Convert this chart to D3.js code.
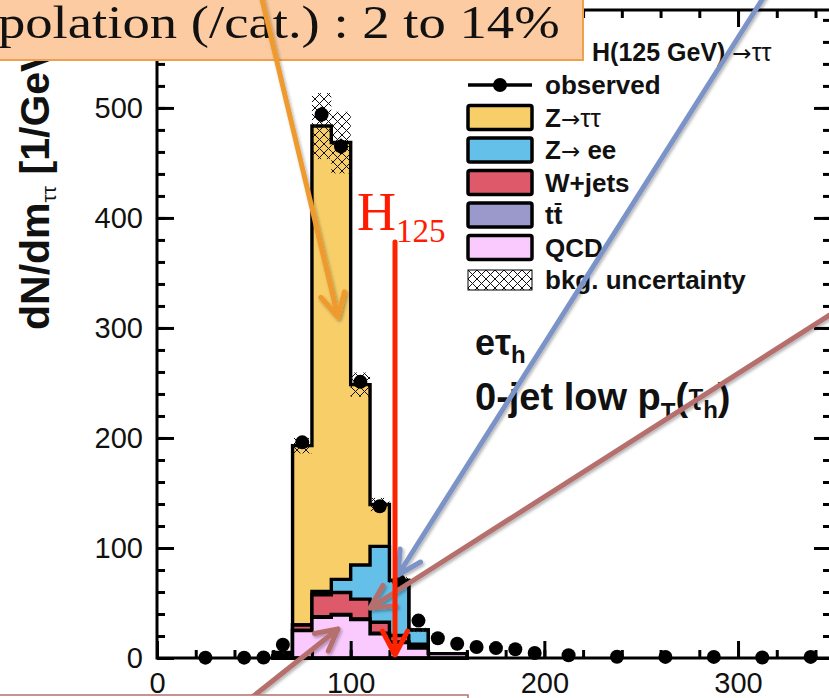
<!DOCTYPE html>
<html>
<head>
<meta charset="utf-8">
<script src="https://cdn.jsdelivr.net/npm/d3@7"></script>
<style>
  body { margin: 0; background: #fff; }
  svg { display: block; }
  .sans { font-family: "Liberation Sans", Arial, Helvetica, sans-serif; }
  .serif { font-family: "Liberation Serif", "DejaVu Serif", serif; }
  .sym { font-family: "DejaVu Sans", sans-serif; }
</style>
</head>
<body>
<svg id="chart" width="829" height="698"></svg>
<script>
// ---- histogram contents (events / GeV), 10 GeV bins ----
const binEdges = [60, 70, 80, 90, 100, 110, 120, 130, 140, 150, 160];
const qcd      = [2, 25, 37, 39, 35, 22, 14, 9, 4, 4];
const ttbar    = [0, 0, 0.5, 0.5, 0.5, 0.5, 0.5, 0.5, 0, 0];
const wjets    = [0, 5, 20, 20, 18, 10, 6, 3, 0, 0];
const zee      = [0, 0, 3, 12, 31, 69, 50, 13, 0, 0];
const ztt      = [3, 163, 423, 397, 164, 38, 0, 0, 0, 0];
const bkgUnc   = [1, 7, 30, 28, 11, 6, 3, 2, 0, 0];

// observed data points (bin centre, value, error)
const obsMass = [25, 45, 55, 65, 75, 85, 95, 105, 115, 125, 135, 145, 155, 165, 175, 185, 195, 212.5, 237.5, 262.5, 287.5, 312.5, 337.5];
const obsVal  = [0.3, 0.3, 0.5, 12, 196, 494, 465, 251, 138, 70, 34, 18, 13, 10, 9, 8, 4.5, 2.5, 1.2, 1, 1, 0.4, 1];
const obsErr  = [0.5, 0.5, 0.7, 3, 4.5, 7, 7, 5, 4, 2.6, 1.8, 1.3, 1.1, 1, 1, 0.9, 0.7, 0.3, 0.2, 0.2, 0.2, 0.1, 0.2];

const xTicks = [0, 100, 200, 300];
const yTicks = [0, 100, 200, 300, 400, 500];
const xMinorTicks = [0, 20, 40, 60, 80, 100, 120, 140, 160, 180, 200, 220, 240, 260, 280, 300, 320, 340];
const yMinorTicks = [0, 20, 40, 60, 80, 100, 120, 140, 160, 180, 200, 220, 240, 260, 280, 300, 320, 340, 360, 380, 400, 420, 440, 460, 480, 500, 520, 540, 560, 580];

const keys   = ["qcd", "ttbar", "wjets", "zee", "ztt"];
const colors = { qcd: "#FACAFF", ttbar: "#9B98CC", wjets: "#DE5A6A", zee: "#64C0E8", ztt: "#F8CE68" };
const legendLabels = ["observed", "Z→ττ", "Z→ ee", "W+jets", "tt", "QCD", "bkg. uncertainty"];

const svg = d3.select("#chart");
const defs = svg.append("defs");

// cross-hatch used for the background uncertainty band
const pat = defs.append("pattern").attr("id", "xhatch")
  .attr("patternUnits", "userSpaceOnUse").attr("width", 9).attr("height", 9);
pat.append("path").attr("d", "M0,0L9,9M9,0L0,9M-1,8L1,10M8,-1L10,1")
  .attr("stroke", "#111").attr("stroke-width", 1).attr("fill", "none");

const shadow = defs.append("filter").attr("id", "shadow")
  .attr("x", "-20%").attr("y", "-20%").attr("width", "140%").attr("height", "140%");
shadow.append("feDropShadow").attr("dx", 1.5).attr("dy", 2).attr("stdDeviation", 1.5)
  .attr("flood-color", "#000").attr("flood-opacity", 0.3);

const x = d3.scaleLinear().domain([0, 348]).range([157, 831]);
const y = d3.scaleLinear().domain([0, 589]).range([658, 10]);

// ---- stacked histograms ----
const rows = binEdges.slice(0, -1).map((lo, i) => ({
  lo, hi: binEdges[i + 1],
  qcd: qcd[i], ttbar: ttbar[i], wjets: wjets[i], zee: zee[i], ztt: ztt[i]
}));
const series = d3.stack().keys(keys)(rows);

const area = d3.area()
  .x(d => x(d.m))
  .y0(y(0))
  .y1(d => y(d.v));

const gStack = svg.append("g");
series.slice().reverse().forEach(s => {
  const pts = [];
  s.forEach((d, i) => {
    pts.push({ m: rows[i].lo, v: d[1] });
    pts.push({ m: rows[i].hi, v: d[1] });
  });
  gStack.append("path")
    .attr("d", area(pts))
    .attr("fill", colors[s.key])
    .attr("stroke", "#000")
    .attr("stroke-width", 3.4)
    .attr("stroke-linejoin", "miter");
});

// uncertainty band on the total background
const totals = series[series.length - 1].map(d => d[1]);
svg.append("g").selectAll("rect")
  .data(rows.map((r, i) => ({ lo: r.lo, hi: r.hi, t: totals[i], u: bkgUnc[i] })).filter(d => d.u > 0))
  .join("rect")
  .attr("x", d => x(d.lo))
  .attr("width", d => x(d.hi) - x(d.lo))
  .attr("y", d => y(d.t + d.u))
  .attr("height", d => y(d.t - d.u) - y(d.t + d.u))
  .attr("fill", "url(#xhatch)");

// ---- axes (ticks on all four sides, pointing inwards) ----
function styleAxis(g) {
  g.select(".domain").remove();
  g.selectAll(".tick line").attr("stroke", "#000").attr("stroke-width", 3);
  g.selectAll("text").attr("class", "sans").attr("font-size", 29).attr("fill", "#111");
}
svg.append("g").attr("transform", `translate(0,${y(0)})`)
  .call(d3.axisBottom(x).tickValues(xMinorTicks).tickSizeInner(-8).tickSizeOuter(0).tickFormat(""))
  .call(styleAxis);
svg.append("g").attr("transform", `translate(0,${y(0)})`)
  .call(d3.axisBottom(x).tickValues(xTicks).tickSizeInner(-17).tickSizeOuter(0).tickPadding(14).tickFormat(d3.format("d")))
  .call(styleAxis);
svg.append("g").attr("transform", `translate(0,${y(589)})`)
  .call(d3.axisTop(x).tickValues(xMinorTicks).tickSizeInner(-8).tickSizeOuter(0).tickFormat(""))
  .call(styleAxis);
svg.append("g").attr("transform", `translate(0,${y(589)})`)
  .call(d3.axisTop(x).tickValues(xTicks).tickSizeInner(-17).tickSizeOuter(0).tickFormat(""))
  .call(styleAxis);
svg.append("g").attr("transform", `translate(${x(0)},0)`)
  .call(d3.axisLeft(y).tickValues(yMinorTicks).tickSizeInner(-8).tickSizeOuter(0).tickFormat(""))
  .call(styleAxis);
svg.append("g").attr("transform", `translate(${x(0)},0)`)
  .call(d3.axisLeft(y).tickValues(yTicks).tickSizeInner(-17).tickSizeOuter(0).tickPadding(14).tickFormat(d3.format("d")))
  .call(styleAxis);
svg.append("g").attr("transform", `translate(${x(348)},0)`)
  .call(d3.axisRight(y).tickValues(yMinorTicks).tickSizeInner(-8).tickSizeOuter(0).tickFormat(""))
  .call(styleAxis);
svg.append("g").attr("transform", `translate(${x(348)},0)`)
  .call(d3.axisRight(y).tickValues(yTicks).tickSizeInner(-17).tickSizeOuter(0).tickFormat(""))
  .call(styleAxis);

svg.append("rect")
  .attr("x", x(0)).attr("y", y(589))
  .attr("width", x(348) - x(0)).attr("height", y(0) - y(589))
  .attr("fill", "none").attr("stroke", "#000").attr("stroke-width", 3);

// ---- observed data ----
const obs = obsMass.map((m, i) => ({ m, v: obsVal[i], e: obsErr[i] }));
const gObs = svg.append("g");
gObs.selectAll("line").data(obs).join("line")
  .attr("x1", d => x(d.m)).attr("x2", d => x(d.m))
  .attr("y1", d => y(d.v - d.e)).attr("y2", d => y(d.v + d.e))
  .attr("stroke", "#000").attr("stroke-width", 2.5);
gObs.selectAll("circle").data(obs).join("circle")
  .attr("cx", d => x(d.m)).attr("cy", d => y(d.v)).attr("r", 7)
  .attr("fill", "#000");

// ---- y-axis title ----
const yTitle = svg.append("text").attr("class", "sans")
  .attr("transform", "translate(49,330) rotate(-90)")
  .attr("font-size", 41).attr("font-weight", "bold").attr("fill", "#111");
yTitle.append("tspan").text("dN/dm");
yTitle.append("tspan").attr("font-size", 21).attr("font-weight", "normal").attr("dy", 7).text("ττ");
yTitle.append("tspan").attr("dy", -7).text(" [1/GeV]");

// ---- legend ----
const legX = 468, legW = 64, legY0 = 85, legStep = 32.5;
const leg = svg.append("g");
leg.append("text").attr("class", "sans").attr("x", 592).attr("y", 61)
  .attr("font-size", 25).attr("fill", "#111")
  .call(t => {
    t.append("tspan").attr("font-weight", "bold").text("H(125 GeV) ");
    t.append("tspan").attr("class", "sym").attr("font-size", 23).text("→");
    t.append("tspan").attr("font-size", 25).text("ττ");
  });
legendLabels.forEach((lab, i) => {
  const cy = legY0 + i * legStep;
  if (i === 0) {
    leg.append("line").attr("x1", legX).attr("x2", legX + legW).attr("y1", cy).attr("y2", cy)
      .attr("stroke", "#000").attr("stroke-width", 3.5);
    leg.append("circle").attr("cx", legX + legW / 2).attr("cy", cy).attr("r", 7).attr("fill", "#000");
  } else if (i === 6) {
    leg.append("rect").attr("x", legX).attr("y", cy - 10).attr("width", legW).attr("height", 20)
      .attr("fill", "url(#xhatch)").attr("stroke", "#000").attr("stroke-width", 1);
  } else {
    leg.append("rect").attr("x", legX).attr("y", cy - 12).attr("width", legW).attr("height", 24)
      .attr("rx", 2).attr("fill", colors[keys[5 - i]])
      .attr("stroke", "#000").attr("stroke-width", 3.5);
  }
  const t = leg.append("text").attr("class", "sans").attr("x", 545).attr("y", cy + 9)
    .attr("font-size", 26).attr("font-weight", "bold").attr("fill", "#111");
  if (lab.startsWith("Z")) {
    t.append("tspan").text("Z");
    t.append("tspan").attr("class", "sym").attr("font-size", 23).attr("font-weight", "normal").text(lab.slice(1, 2));
    t.append("tspan").attr("font-weight", lab.includes("ee") ? "bold" : "normal").text(lab.slice(2));
  } else {
    t.text(lab);
  }
  if (lab === "tt") {
    const w = t.node().getComputedTextLength();
    leg.append("line").attr("x1", 545 + w / 2 + 1).attr("x2", 545 + w - 1)
      .attr("y1", cy - 11).attr("y2", cy - 11).attr("stroke", "#111").attr("stroke-width", 2);
  }
});

// ---- channel / category labels ----
const chan = svg.append("text").attr("class", "sans").attr("x", 475).attr("y", 355)
  .attr("font-size", 36).attr("font-weight", "bold").attr("fill", "#111");
chan.append("tspan").text("eτ");
chan.append("tspan").attr("font-size", 24).attr("dy", 8).text("h");
const cat = svg.append("text").attr("class", "sans").attr("x", 475).attr("y", 410)
  .attr("font-size", 38).attr("font-weight", "bold").attr("fill", "#111");
cat.append("tspan").text("0-jet low p");
cat.append("tspan").attr("font-size", 24).attr("dy", 10).text("T");
cat.append("tspan").attr("dy", -10).text("(");
cat.append("tspan").attr("font-weight", "normal").text("τ");
cat.append("tspan").attr("font-size", 24).attr("dy", 8).text("h");
cat.append("tspan").attr("dy", -8).text(")");

// ---- slide annotations ----
function arrow(g, x1, y1, x2, y2, color, width, head) {
  const a = Math.atan2(y2 - y1, x2 - x1), spread = Math.PI / 6.5;
  const p = d3.path();
  p.moveTo(x1, y1); p.lineTo(x2, y2);
  p.moveTo(x2 - head * Math.cos(a - spread), y2 - head * Math.sin(a - spread));
  p.lineTo(x2, y2);
  p.lineTo(x2 - head * Math.cos(a + spread), y2 - head * Math.sin(a + spread));
  g.append("path").attr("d", p.toString()).attr("fill", "none")
    .attr("stroke", color).attr("stroke-width", width)
    .attr("stroke-linecap", "round").attr("stroke-linejoin", "round");
}
const ann = svg.append("g").attr("filter", "url(#shadow)");
arrow(ann, 765, -5, 398, 575, "#7B93C8", 5, 26);
arrow(ann, 836, 311, 370, 608, "#B5706E", 5, 26);
arrow(ann, 236, 710, 338, 629, "#B5706E", 5, 24);

// H125 marker
svg.append("g").call(g => arrow(g, 395, 242, 395, 655, "#FF2200", 5, 27));
const hl = svg.append("text").attr("class", "serif").attr("x", 357).attr("y", 230)
  .attr("fill", "#FF1A00").attr("font-size", 54);
hl.append("tspan").text("H");
hl.append("tspan").attr("font-size", 33).attr("dy", 12).text("125");

// top text box (runs past the left edge of the page)
svg.append("rect").attr("x", -6).attr("y", -6).attr("width", 589).attr("height", 66)
  .attr("fill", "#FCCBA1").attr("stroke", "#F0A04C").attr("stroke-width", 2);
const boxText = svg.append("text").attr("class", "serif").attr("y", 38)
  .attr("font-size", 46).attr("fill", "#111")
  .text("Extrapolation (/cat.) : 2 to 14%");
{
  const n = boxText.node();
  const total = n.getComputedTextLength();
  const pre = n.getSubStringLength(0, 5);
  const s = 562 / (total - pre);
  boxText.attr("transform", `translate(${-2 - pre * s},0) scale(${s},1)`);
}
svg.append("g").attr("filter", "url(#shadow)")
  .call(g => arrow(g, 261, -5, 338, 317, "#EE9A2E", 5, 26));

// bottom text box (edge)
svg.append("rect").attr("x", -6).attr("y", 695).attr("width", 474).attr("height", 20)
  .attr("fill", "#fff").attr("stroke", "#B5706E").attr("stroke-width", 1.5);
</script>
</body>
</html>
